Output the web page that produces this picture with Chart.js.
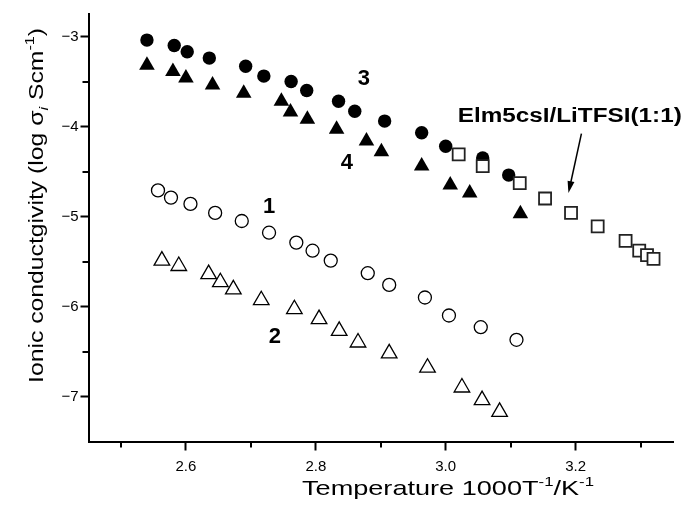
<!DOCTYPE html>
<html>
<head>
<meta charset="utf-8">
<script src="https://cdn.jsdelivr.net/npm/chart.js@4.4.1/dist/chart.umd.min.js"></script>
<style>
html, body { margin: 0; padding: 0; background: #fff; }
#wrap { width: 684px; height: 509px; }
</style>
</head>
<body>
<div id="wrap"><canvas id="cond_chart" width="684" height="509"></canvas></div>
<script>
// values (x = 1000/T, y = log sigma)
// 1 : open circles
const s1_x = [2.557, 2.577, 2.607, 2.645, 2.686, 2.728, 2.770, 2.795, 2.823, 2.880, 2.913, 2.968, 3.005, 3.054, 3.109];
const s1_y = [-4.71, -4.79, -4.86, -4.96, -5.05, -5.18, -5.29, -5.38, -5.49, -5.63, -5.76, -5.90, -6.10, -6.23, -6.37];
// 2 : open triangles
const s2_x = [2.563, 2.589, 2.635, 2.653, 2.673, 2.716, 2.767, 2.805, 2.836, 2.865, 2.913, 2.972, 3.025, 3.056, 3.083];
const s2_y = [-5.49, -5.55, -5.64, -5.73, -5.81, -5.93, -6.03, -6.14, -6.27, -6.40, -6.52, -6.68, -6.90, -7.04, -7.17];
// 3 : filled circles
const s3_x = [2.540, 2.582, 2.602, 2.636, 2.692, 2.720, 2.762, 2.786, 2.835, 2.860, 2.906, 2.963, 3.000, 3.057, 3.097];
const s3_y = [-3.04, -3.10, -3.17, -3.24, -3.33, -3.44, -3.50, -3.60, -3.72, -3.83, -3.94, -4.07, -4.22, -4.35, -4.54];
// 4 : filled triangles
const s4_x = [2.540, 2.580, 2.600, 2.641, 2.689, 2.747, 2.761, 2.787, 2.832, 2.878, 2.901, 2.963, 3.007, 3.037, 3.115];
const s4_y = [-3.32, -3.39, -3.46, -3.54, -3.63, -3.72, -3.84, -3.92, -4.03, -4.16, -4.28, -4.44, -4.65, -4.74, -4.97];
// EIm5csI/LiTFSI(1:1) : open squares
const s5_x = [3.020, 3.057, 3.114, 3.153, 3.193, 3.234, 3.277, 3.298, 3.310, 3.320];
const s5_y = [-4.31, -4.44, -4.63, -4.80, -4.96, -5.11, -5.27, -5.38, -5.43, -5.47];

// axis ticks
const x_ticks = [2.6, 2.8, 3.0, 3.2];
const x_minor = [2.5, 2.7, 2.9, 3.1, 3.3];
const y_ticks = [-3, -4, -5, -6, -7];
const y_minor = [-3.5, -4.5, -5.5, -6.5];

// curve labels (text, x, y)
const curve_labels = ["1", "2", "3", "4"];
const curve_label_x = [2.728, 2.737, 2.874, 2.848];
const curve_label_y = [-4.89, -6.34, -3.47, -4.41];

const note_text = "Elm5csI/LiTFSI(1:1)";
const note_pos = [3.191, -3.95];
const arrow_from = [3.209, -4.08];
const arrow_to = [3.189, -4.74];

const FONT = '"Liberation Sans", Arial, sans-serif';

function pts(xs, ys) {
    return xs.map((x, i) => ({x: x, y: ys[i]}));
}

// draw a run of text pieces (for super/subscripts), centred at x,y
function draw_parts(ctx, parts, x, y, target_w, rotate) {
    ctx.save();
    ctx.translate(x, y);
    if (rotate) ctx.rotate(-Math.PI / 2);
    let w = 0;
    parts.forEach(p => { ctx.font = p.font; w += ctx.measureText(p.text).width; });
    let sx = target_w ? target_w / w : 1;
    ctx.scale(sx, 1);
    let cx = -w / 2;
    ctx.textAlign = "left";
    ctx.textBaseline = "alphabetic";
    ctx.fillStyle = "#000";
    parts.forEach(p => {
        ctx.font = p.font;
        ctx.fillText(p.text, cx, p.dy || 0);
        cx += ctx.measureText(p.text).width;
    });
    ctx.restore();
}

const extras = {
    id: "extras",
    afterDraw(chart) {
        const ctx = chart.ctx;
        const xs = chart.scales.x, ys = chart.scales.y;
        const area = chart.chartArea;

        // minor ticks
        ctx.save();
        ctx.strokeStyle = "#000";
        ctx.lineWidth = 2;
        x_minor.forEach(v => {
            let px = Math.round(xs.getPixelForValue(v));
            ctx.beginPath();
            ctx.moveTo(px, area.bottom);
            ctx.lineTo(px, area.bottom + 6);
            ctx.stroke();
        });
        y_minor.forEach(v => {
            let py = Math.round(ys.getPixelForValue(v));
            ctx.beginPath();
            ctx.moveTo(area.left, py);
            ctx.lineTo(area.left - 6, py);
            ctx.stroke();
        });
        ctx.restore();

        // curve numbers
        ctx.save();
        ctx.fillStyle = "#000";
        ctx.font = "bold 22px " + FONT;
        ctx.textAlign = "center";
        ctx.textBaseline = "middle";
        curve_labels.forEach((t, i) => {
            ctx.fillText(t, xs.getPixelForValue(curve_label_x[i]), ys.getPixelForValue(curve_label_y[i]));
        });
        ctx.restore();

        // note + arrow
        draw_parts(ctx, [{text: note_text, font: "bold 20px " + FONT}],
            xs.getPixelForValue(note_pos[0]), ys.getPixelForValue(note_pos[1]), 224, false);

        let x0 = xs.getPixelForValue(arrow_from[0]), y0 = ys.getPixelForValue(arrow_from[1]);
        let x1 = xs.getPixelForValue(arrow_to[0]), y1 = ys.getPixelForValue(arrow_to[1]);
        let ang = Math.atan2(y1 - y0, x1 - x0);
        ctx.save();
        ctx.strokeStyle = "#000";
        ctx.fillStyle = "#000";
        ctx.lineWidth = 1.5;
        ctx.beginPath();
        ctx.moveTo(x0, y0);
        ctx.lineTo(x1 - Math.cos(ang) * 8, y1 - Math.sin(ang) * 8);
        ctx.stroke();
        ctx.translate(x1, y1);
        ctx.rotate(ang);
        ctx.beginPath();
        ctx.moveTo(0, 0);
        ctx.lineTo(-12, -3.5);
        ctx.lineTo(-12, 3.5);
        ctx.closePath();
        ctx.fill();
        ctx.restore();

        // axis titles
        const big = "20px " + FONT, small = "13px " + FONT;
        draw_parts(ctx, [
            {text: "Temperature 1000T", font: "21px " + FONT},
            {text: "-1", font: small, dy: -9},
            {text: "/K", font: "21px " + FONT},
            {text: "-1", font: small, dy: -9}
        ], 448, 495, 292, false);

        draw_parts(ctx, [
            {text: "Ionic conductgivity (log \u03c3", font: big},
            {text: "i", font: "italic " + small, dy: 5},
            {text: " Scm", font: big},
            {text: "-1", font: small, dy: -9},
            {text: ")", font: big}
        ], 43, 205.5, 355, true);
    }
};

function make_chart() {
    const ctx = document.getElementById("cond_chart");
    new Chart(ctx, {
        type: "scatter",
        data: {
            datasets: [
                {
                    label: "EIm5csI/LiTFSI(1:1)",
                    data: pts(s5_x, s5_y),
                    pointStyle: "rect",
                    pointRadius: 8.5,
                    backgroundColor: "#fff",
                    borderColor: "#222",
                    borderWidth: 1.8
                },
                {
                    label: "1",
                    data: pts(s1_x, s1_y),
                    pointStyle: "circle",
                    pointRadius: 6.5,
                    backgroundColor: "rgba(0,0,0,0)",
                    borderColor: "#000",
                    borderWidth: 1.3
                },
                {
                    label: "2",
                    data: pts(s2_x, s2_y),
                    pointStyle: "triangle",
                    pointRadius: 9,
                    backgroundColor: "rgba(0,0,0,0)",
                    borderColor: "#000",
                    borderWidth: 1.3
                },
                {
                    label: "3",
                    data: pts(s3_x, s3_y),
                    pointStyle: "circle",
                    pointRadius: 6.7,
                    backgroundColor: "#000",
                    borderColor: "#000",
                    borderWidth: 0
                },
                {
                    label: "4",
                    data: pts(s4_x, s4_y),
                    pointStyle: "triangle",
                    pointRadius: 9,
                    backgroundColor: "#000",
                    borderColor: "#000",
                    borderWidth: 0
                }
            ]
        },
        options: {
            responsive: false,
            animation: false,
            devicePixelRatio: 1,
            layout: { padding: { left: 0, top: 14, right: 11, bottom: 0 } },
            plugins: {
                legend: { display: false },
                tooltip: { enabled: false }
            },
            scales: {
                x: {
                    type: "linear",
                    min: 2.45,
                    max: 3.35,
                    afterBuildTicks: s => { s.ticks = x_ticks.map(v => ({value: v})); },
                    afterFit: s => { s.height = 67.5; },
                    border: { display: true, color: "#000", width: 2 },
                    grid: { drawOnChartArea: false, drawTicks: true, tickLength: 9, tickWidth: 2, tickColor: "#000" },
                    ticks: {
                        color: "#000",
                        padding: 7,
                        maxRotation: 0,
                        font: { family: FONT, size: 15 },
                        callback: v => v.toFixed(1)
                    }
                },
                y: {
                    type: "linear",
                    min: -7.5,
                    max: -2.75,
                    afterBuildTicks: s => { s.ticks = y_ticks.map(v => ({value: v})); },
                    afterFit: s => { s.width = 88.5; },
                    border: { display: true, color: "#000", width: 2 },
                    grid: { drawOnChartArea: false, drawTicks: true, tickLength: 8, tickWidth: 2, tickColor: "#000" },
                    ticks: {
                        color: "#000",
                        padding: 2,
                        font: { family: FONT, size: 15 },
                        callback: v => "\u2212" + Math.abs(v)
                    }
                }
            }
        },
        plugins: [extras]
    });
}

make_chart();
</script>
</body>
</html>
